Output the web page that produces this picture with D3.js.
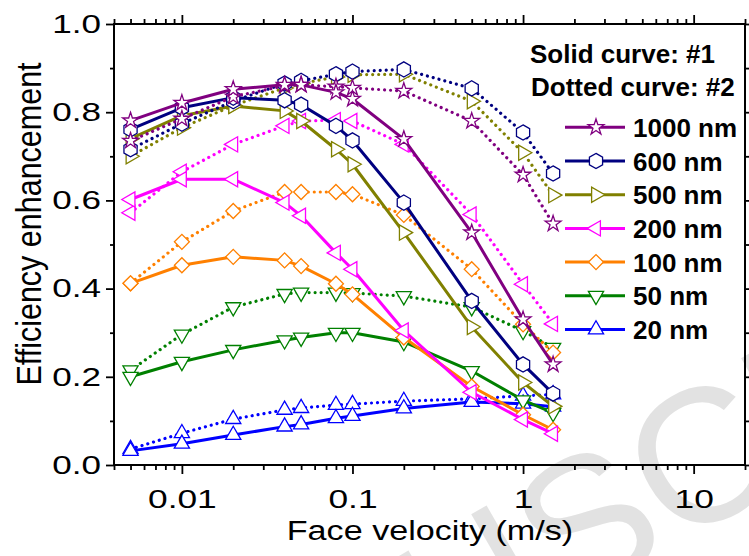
<!DOCTYPE html>
<html>
<head>
<meta charset="utf-8">
<script src="https://cdn.jsdelivr.net/npm/d3@7"></script>
<style>
  body { margin: 0; background: #fff; }
  svg { font-family: 'Liberation Sans', Arial, sans-serif; }
</style>
</head>
<body>
<svg width="749" height="556"></svg>
<script>
(function(d3) {
  'use strict';

  // Face velocity (m/s) of every measured point.
  const velocity = [0.005, 0.01, 0.02, 0.04, 0.05, 0.08, 0.1, 0.2, 0.5, 1, 1.5];

  const sizeLabels = ['1000 nm', '600 nm', '500 nm', '200 nm', '100 nm', '50 nm', '20 nm'];
  const sizeColors = ['#800080', '#000080', '#808000', '#ff00ff', '#ff8000', '#008000', '#0000ff'];
  const sizeShapes = ['star', 'hexagon', 'right', 'left', 'diamond', 'down', 'up'];

  // Solid curve: #1
  const solid1000 = [0.781, 0.821, 0.852, 0.862, 0.862, 0.845, 0.830, 0.739, 0.527, 0.330, 0.228];
  const solid600 = [0.761, 0.810, 0.833, 0.827, 0.817, 0.769, 0.736, 0.595, 0.372, 0.228, 0.162];
  const solid500 = [0.740, 0.792, 0.814, 0.803, 0.780, 0.716, 0.682, 0.527, 0.313, 0.187, 0.133];
  const solid200 = [0.602, 0.648, 0.648, 0.595, 0.565, 0.481, 0.444, 0.305, 0.165, 0.103, 0.071];
  const solid100 = [0.412, 0.453, 0.472, 0.464, 0.451, 0.411, 0.387, 0.289, 0.178, 0.114, 0.080];
  const solid50 = [0.200, 0.234, 0.261, 0.283, 0.289, 0.300, 0.300, 0.279, 0.213, 0.147, 0.118];
  const solid20 = [0.032, 0.048, 0.068, 0.087, 0.092, 0.106, 0.111, 0.128, 0.143, 0.139, 0.132];

  // Dotted curve: #2
  const dotted1000 = [0.735, 0.785, 0.835, 0.860, 0.862, 0.858, 0.855, 0.848, 0.780, 0.658, 0.547];
  const dotted600 = [0.716, 0.774, 0.825, 0.865, 0.871, 0.886, 0.892, 0.897, 0.854, 0.754, 0.661];
  const dotted500 = [0.700, 0.765, 0.815, 0.855, 0.865, 0.880, 0.885, 0.886, 0.825, 0.708, 0.612];
  const dotted200 = [0.572, 0.665, 0.727, 0.769, 0.780, 0.782, 0.780, 0.727, 0.568, 0.410, 0.320];
  const dotted100 = [0.412, 0.506, 0.576, 0.619, 0.619, 0.619, 0.614, 0.567, 0.444, 0.319, 0.255];
  const dotted50 = [0.215, 0.296, 0.358, 0.388, 0.391, 0.391, 0.390, 0.383, 0.358, 0.304, 0.266];
  const dotted20 = [0.036, 0.072, 0.104, 0.125, 0.129, 0.136, 0.138, 0.145, 0.150, 0.157, 0.160];

  const solidCurves = [solid1000, solid600, solid500, solid200, solid100, solid50, solid20];
  const dottedCurves = [dotted1000, dotted600, dotted500, dotted200, dotted100, dotted50, dotted20];

  const xMajor = [0.01, 0.1, 1, 10];
  const yMajor = [0, 0.2, 0.4, 0.6, 0.8, 1.0];
  const yMinor = [0.1, 0.3, 0.5, 0.7, 0.9];

  const svg = d3.select('svg');
  const plot = {left: 114, right: 745, top: 24, bottom: 465};

  const xScale = d3.scaleLog().domain([0.004, 20]).range([plot.left, plot.right]);
  const yScale = d3.scaleLinear().domain([0, 1]).range([plot.bottom, plot.top]);

  const isDecade = (v) => Math.abs(Math.log10(v) - Math.round(Math.log10(v))) < 1e-6;
  const xMinor = xScale.ticks().filter((v) => !isDecade(v));

  // hexagon with a vertex on top
  const symbolHexagon = {
    draw(context, size) {
      const r = Math.sqrt(size / (1.5 * Math.sqrt(3)));
      for (let i = 0; i < 6; i++) {
        const a = -Math.PI / 2 + i * Math.PI / 3;
        if (i === 0) context.moveTo(r * Math.cos(a), r * Math.sin(a));
        else context.lineTo(r * Math.cos(a), r * Math.sin(a));
      }
      context.closePath();
    },
  };

  const shapeDefs = {
    star: {type: d3.symbolStar, size: 78, rotate: 0},
    hexagon: {type: symbolHexagon, size: 150, rotate: 0},
    right: {type: d3.symbolTriangle, size: 100, rotate: 90},
    left: {type: d3.symbolTriangle, size: 100, rotate: -90},
    diamond: {type: d3.symbolSquare, size: 112, rotate: 45},
    down: {type: d3.symbolTriangle, size: 100, rotate: 180},
    up: {type: d3.symbolTriangle, size: 100, rotate: 0},
  };

  function markerPath(shape) {
    const def = shapeDefs[shape];
    return d3.symbol().type(def.type).size(def.size)();
  }

  // faint journal watermark behind everything
  svg.append('text')
      .attr('font-size', 190)
      .attr('fill', '#e2e2e2')
      .attr('transform', 'translate(80,891) rotate(-30)')
      .text('MANUSCRIPT');

  // ---- axes ----
  function styleTicks(g) {
    g.select('.domain').remove();
    g.selectAll('line').attr('stroke', '#000').attr('stroke-width', 1.8);
  }

  const xAxisG = svg.append('g').attr('transform', `translate(0,${plot.bottom})`);
  xAxisG.append('g')
      .call(d3.axisBottom(xScale).tickValues(xMinor).tickSize(5).tickFormat(''))
      .call(styleTicks);
  const xLabels = xAxisG.append('g')
      .call(d3.axisBottom(xScale).tickValues(xMajor).tickSize(9).tickPadding(16)
          .tickFormat((d) => String(d)))
      .call(styleTicks)
      .attr('font-family', null)
      .attr('font-size', 26);
  xLabels.selectAll('text').attr('fill', '#000').attr('transform', 'scale(1.36,1)');

  const xTopG = svg.append('g').attr('transform', `translate(0,${plot.top})`);
  xTopG.append('g')
      .call(d3.axisTop(xScale).tickValues(xMinor).tickSize(5).tickFormat(''))
      .call(styleTicks);
  xTopG.append('g')
      .call(d3.axisTop(xScale).tickValues(xMajor).tickSize(9).tickFormat(''))
      .call(styleTicks);

  const yAxisG = svg.append('g').attr('transform', `translate(${plot.left},0)`);
  yAxisG.append('g')
      .call(d3.axisLeft(yScale).tickValues(yMinor).tickSize(4).tickFormat(''))
      .call(styleTicks);
  const yLabels = yAxisG.append('g')
      .call(d3.axisLeft(yScale).tickValues(yMajor).tickSize(8).tickFormat(d3.format('.1f')))
      .call(styleTicks)
      .attr('font-family', null)
      .attr('font-size', 26);
  yLabels.selectAll('text')
      .attr('fill', '#000')
      .attr('x', 0)
      .attr('transform', 'translate(-13,0) scale(1.35,1)');

  const yRightG = svg.append('g').attr('transform', `translate(${plot.right},0)`);
  yRightG.append('g')
      .call(d3.axisRight(yScale).tickValues(yMinor).tickSize(4).tickFormat(''))
      .call(styleTicks);
  yRightG.append('g')
      .call(d3.axisRight(yScale).tickValues(yMajor).tickSize(8).tickFormat(''))
      .call(styleTicks);

  svg.append('rect')
      .attr('x', plot.left)
      .attr('y', plot.top)
      .attr('width', plot.right - plot.left)
      .attr('height', plot.bottom - plot.top)
      .attr('fill', 'none')
      .attr('stroke', '#000')
      .attr('stroke-width', 2);

  // axis titles
  svg.append('text')
      .attr('text-anchor', 'middle')
      .attr('font-size', 28)
      .attr('transform', 'translate(430,540) scale(1.22,1)')
      .text('Face velocity (m/s)');

  svg.append('text')
      .attr('text-anchor', 'middle')
      .attr('font-size', 30.5)
      .attr('transform', 'translate(41,224) rotate(-90) scale(1,1.16)')
      .text('Efficiency enhancement');

  // ---- curves ----
  const line = d3.line()
      .x((d) => xScale(d[0]))
      .y((d) => yScale(d[1]));

  const marksG = svg.append('g');

  function drawCurve(values, i, dotted) {
    const pts = velocity.map((v, j) => [v, values[j]]);
    const g = marksG.append('g');
    g.append('path')
        .attr('d', line(pts))
        .attr('fill', 'none')
        .attr('stroke', sizeColors[i])
        .attr('stroke-width', dotted ? 3.2 : 3)
        .attr('stroke-linecap', dotted ? 'round' : 'butt')
        .attr('stroke-linejoin', 'round')
        .attr('stroke-dasharray', dotted ? '0.01 6' : null);
    const def = shapeDefs[sizeShapes[i]];
    g.selectAll('path.marker')
        .data(pts)
        .enter()
        .append('path')
        .attr('class', 'marker')
        .attr('d', markerPath(sizeShapes[i]))
        .attr('transform', (d) =>
          `translate(${xScale(d[0])},${yScale(d[1])}) rotate(${def.rotate})`)
        .attr('fill', '#fff')
        .attr('stroke', sizeColors[i])
        .attr('stroke-width', 1.3);
  }

  for (let i = sizeLabels.length - 1; i >= 0; i--) {
    drawCurve(dottedCurves[i], i, true);
    drawCurve(solidCurves[i], i, false);
  }

  // ---- legend ----
  const legendG = svg.append('g').attr('font-weight', 'bold').attr('font-size', 26);
  legendG.append('text').attr('x', 530).attr('y', 63).text('Solid curve: #1');
  legendG.append('text').attr('x', 531).attr('y', 96).text('Dotted curve: #2');

  sizeLabels.forEach(function(label, i) {
    const ly = 127.3 + i * 33.7;
    const item = legendG.append('g').attr('transform', `translate(0,${ly})`);
    item.append('line')
        .attr('x1', 565).attr('x2', 625)
        .attr('stroke', sizeColors[i])
        .attr('stroke-width', 3);
    item.append('path')
        .attr('d', markerPath(sizeShapes[i]))
        .attr('transform', `translate(596,0) rotate(${shapeDefs[sizeShapes[i]].rotate})`)
        .attr('fill', '#fff')
        .attr('stroke', sizeColors[i])
        .attr('stroke-width', 1.3);
    item.append('text').attr('x', 633).attr('y', 9.5).text(label);
  });
}(d3));
</script>
</body>
</html>
